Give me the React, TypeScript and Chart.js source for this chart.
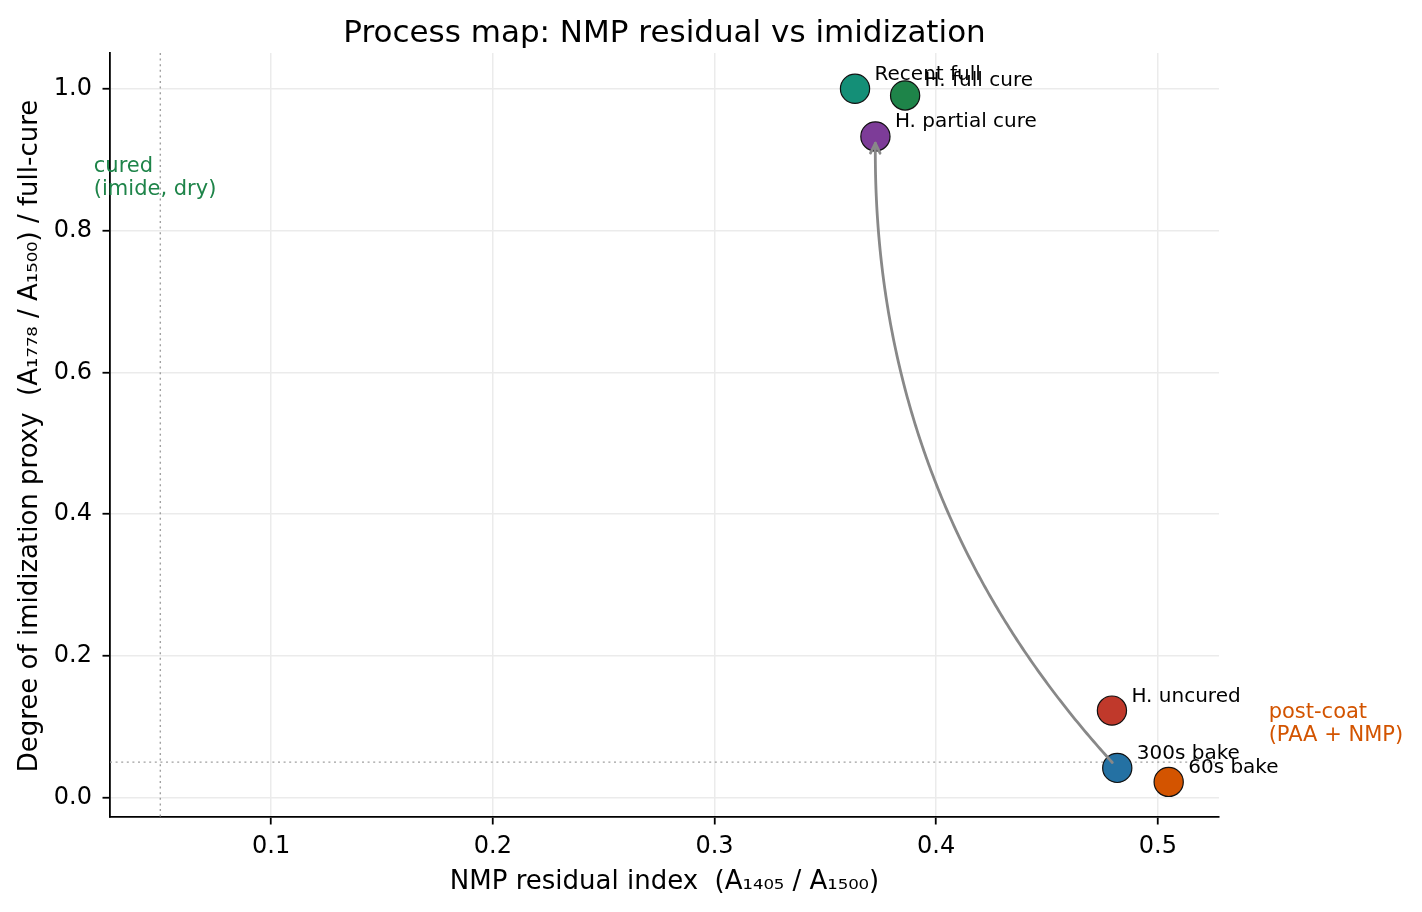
import React, { useEffect, useRef } from "react";
import { Chart, registerables } from "chart.js";

Chart.register(...registerables);

// ---- data ----
const sampleLabels = ["Recent full", "H. full cure", "H. partial cure", "H. uncured", "300s bake", "60s bake"];
const nmpResidual = [0.3634, 0.386, 0.3726, 0.4793, 0.4817, 0.5049];
const imidization = [1.0, 0.9905, 0.9327, 0.1227, 0.0419, 0.0221];
const pointColors = ["#148f77", "#1e8449", "#7d3c98", "#c0392b", "#2471a3", "#d35400"];
const xTickValues = [0.1, 0.2, 0.3, 0.4, 0.5];
const yTickValues = [0.0, 0.2, 0.4, 0.6, 0.8, 1.0];
const xLimits = [0.0273, 0.5276];
const yLimits = [-0.0274, 1.0504];
const nmpThreshold = 0.05;
const imidThreshold = 0.05;
const arrowFrom = 4; // 300s bake
const arrowTo = 2; // H. partial cure
const curedNote = ["cured", "(imide, dry)"];
const curedNotePos = [0.02, 0.875];
const postCoatNote = ["post-coat", "(PAA + NMP)"];
const postCoatNotePos = [0.55, 0.105];

const titleText = "Process map: NMP residual vs imidization";
const xTitle = "NMP residual index  (A\u2081\u2084\u2080\u2085 / A\u2081\u2085\u2080\u2080)";
const yTitle = "Degree of imidization proxy  (A\u2081\u2087\u2087\u2088 / A\u2081\u2085\u2080\u2080) / full-cure";

const FONT = "'DejaVu Sans', 'Liberation Sans', sans-serif";

const overlayPlugin = {
  id: "overlay",
  beforeDatasetsDraw(chart: any) {
    const { ctx, chartArea: a, scales } = chart;
    const x = scales.x, y = scales.y;
    ctx.save();
    ctx.strokeStyle = "#a0a0a0";
    ctx.lineWidth = 1.4;
    ctx.setLineDash([2, 3.6]);
    const vx = x.getPixelForValue(nmpThreshold);
    ctx.beginPath();
    ctx.moveTo(vx, a.top);
    ctx.lineTo(vx, a.bottom);
    ctx.stroke();
    const hy = y.getPixelForValue(imidThreshold);
    ctx.beginPath();
    ctx.moveTo(a.left, hy);
    ctx.lineTo(a.right, hy);
    ctx.stroke();
    ctx.restore();
  },
  afterDatasetsDraw(chart: any) {
    const { ctx, scales } = chart;
    const x = scales.x, y = scales.y;
    // curved arrow (arc3, rad=-0.2)
    const x1 = x.getPixelForValue(nmpResidual[arrowFrom]);
    const y1 = y.getPixelForValue(imidization[arrowFrom]);
    const x2 = x.getPixelForValue(nmpResidual[arrowTo]);
    const y2 = y.getPixelForValue(imidization[arrowTo]);
    const f = -0.2;
    const dx = x2 - x1;
    const dyUp = -(y2 - y1);
    const cx = (x1 + x2) / 2 + f * dyUp;
    const cy = (y1 + y2) / 2 + f * dx;
    const bez = (t: number) => [
      (1 - t) * (1 - t) * x1 + 2 * (1 - t) * t * cx + t * t * x2,
      (1 - t) * (1 - t) * y1 + 2 * (1 - t) * t * cy + t * t * y2,
    ];
    let len = 0;
    let prev = bez(0);
    for (let i = 1; i <= 200; i++) {
      const p = bez(i / 200);
      len += Math.hypot(p[0] - prev[0], p[1] - prev[1]);
      prev = p;
    }
    const t0 = 7 / len;
    const t1 = 1 - 6.5 / len;
    ctx.save();
    ctx.strokeStyle = "#888888";
    ctx.lineWidth = 2.8;
    ctx.lineCap = "round";
    ctx.lineJoin = "round";
    ctx.beginPath();
    for (let i = 0; i <= 200; i++) {
      const t = t0 + ((t1 - t0) * i) / 200;
      const p = bez(t);
      if (i === 0) ctx.moveTo(p[0], p[1]);
      else ctx.lineTo(p[0], p[1]);
    }
    ctx.stroke();
    const tip = bez(t1);
    const tx = 2 * (1 - t1) * (cx - x1) + 2 * t1 * (x2 - cx);
    const ty = 2 * (1 - t1) * (cy - y1) + 2 * t1 * (y2 - cy);
    const ang = Math.atan2(ty, tx);
    const hl = 11, hw = 0.45;
    ctx.beginPath();
    ctx.moveTo(tip[0] - hl * Math.cos(ang - hw), tip[1] - hl * Math.sin(ang - hw));
    ctx.lineTo(tip[0], tip[1]);
    ctx.lineTo(tip[0] - hl * Math.cos(ang + hw), tip[1] - hl * Math.sin(ang + hw));
    ctx.stroke();
    ctx.restore();

    // point labels
    ctx.save();
    ctx.fillStyle = "#000";
    ctx.font = `20px ${FONT}`;
    ctx.textAlign = "left";
    ctx.textBaseline = "alphabetic";
    sampleLabels.forEach((lab, i) => {
      const px = x.getPixelForValue(nmpResidual[i]);
      const py = y.getPixelForValue(imidization[i]);
      ctx.fillText(lab, px + 19.5, py - 9);
    });
    ctx.restore();
  },
  afterDraw(chart: any) {
    const { ctx, chartArea: a, scales } = chart;
    const x = scales.x, y = scales.y;
    ctx.save();
    ctx.fillStyle = "#000";
    ctx.textAlign = "center";
    ctx.textBaseline = "alphabetic";
    ctx.font = `31px ${FONT}`;
    ctx.fillText(titleText, (a.left + a.right) / 2, 41.5);
    ctx.font = `26px ${FONT}`;
    ctx.fillText(xTitle, (a.left + a.right) / 2, 889);
    ctx.save();
    ctx.translate(37, (a.top + a.bottom) / 2 + 1);
    ctx.rotate(-Math.PI / 2);
    ctx.fillText(yTitle, 0, 0);
    ctx.restore();
    ctx.textAlign = "left";
    ctx.font = `21px ${FONT}`;
    ctx.fillStyle = "#1e8449";
    let nx = x.getPixelForValue(curedNotePos[0]);
    let ny = y.getPixelForValue(curedNotePos[1]);
    ctx.fillText(curedNote[0], nx, ny - 5);
    ctx.fillText(curedNote[1], nx, ny + 17.5);
    ctx.fillStyle = "#d35400";
    nx = x.getPixelForValue(postCoatNotePos[0]);
    ny = y.getPixelForValue(postCoatNotePos[1]);
    ctx.fillText(postCoatNote[0], nx, ny - 5);
    ctx.fillText(postCoatNote[1], nx, ny + 17.5);
    ctx.restore();
  },
};

export default function App() {
  const ref = useRef<HTMLCanvasElement | null>(null);
  useEffect(() => {
    document.body.style.margin = "0";
    const canvas = ref.current!;
    const data = nmpResidual.map((v, i) => ({ x: v, y: imidization[i] }));
    const chart = new Chart(canvas, {
      type: "scatter",
      data: {
        datasets: [
          {
            data,
            backgroundColor: pointColors,
            borderColor: "#111",
            borderWidth: 1.2,
            pointRadius: 14.6,
            pointHoverRadius: 14.6,
          },
        ],
      },
      options: {
        responsive: false,
        animation: false,
        devicePixelRatio: 1,
        layout: { padding: { left: 0, right: 203, top: 53, bottom: 0 } },
        plugins: { legend: { display: false }, title: { display: false }, tooltip: { enabled: false } },
        events: [],
        scales: {
          x: {
            type: "linear",
            min: xLimits[0],
            max: xLimits[1],
            afterFit: (s: any) => {
              s.height = 95;
            },
            afterBuildTicks: (s: any) => {
              s.ticks = xTickValues.map((v) => ({ value: v }));
            },
            ticks: {
              callback: (v: any) => Number(v).toFixed(1),
              font: { family: FONT, size: 24 },
              color: "#000",
              padding: 8,
              maxRotation: 0,
              autoSkip: false,
            },
            grid: { color: "#ebebeb", lineWidth: 1.5, tickColor: "#000", tickLength: 7.5, tickWidth: 1.8 },
            border: { display: true, color: "#000", width: 1.8 },
          },
          y: {
            type: "linear",
            min: yLimits[0],
            max: yLimits[1],
            afterFit: (s: any) => {
              s.width = 110;
            },
            afterBuildTicks: (s: any) => {
              s.ticks = yTickValues.map((v) => ({ value: v }));
            },
            ticks: {
              callback: (v: any) => Number(v).toFixed(1),
              font: { family: FONT, size: 24 },
              color: "#000",
              padding: 10.5,
              autoSkip: false,
            },
            grid: { color: "#ebebeb", lineWidth: 1.5, tickColor: "#000", tickLength: 7.5, tickWidth: 1.8 },
            border: { display: true, color: "#000", width: 1.8 },
          },
        },
      },
      plugins: [overlayPlugin],
    });
    return () => chart.destroy();
  }, []);
  return <canvas ref={ref} width={1422} height={912} style={{ display: "block" }} />;
}
